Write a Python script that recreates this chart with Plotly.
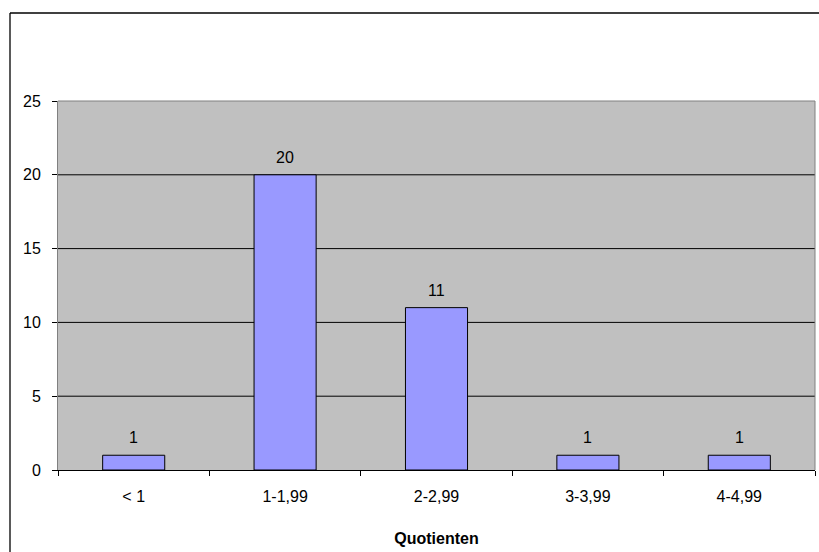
import plotly.graph_objects as go

# Häufigkeitsverteilung der Quotienten
categories = ["< 1", "1-1,99", "2-2,99", "3-3,99", "4-4,99"]
counts = [1, 20, 11, 1, 1]
y_ticks = [0, 5, 10, 15, 20, 25]

FONT = "Liberation Sans, Arial, sans-serif"
FS = 16

# Plot area in pixels (819 x 552 page)
L, R, T, B = 58, 4, 101, 82
W, H = 819, 552
pw, ph = W - L - R, H - T - B

fig = go.Figure()
fig.add_trace(go.Bar(
    x=categories,
    y=counts,
    width=0.41,
    marker=dict(color="#9999FF", line=dict(color="#000000", width=1)),
    hoverinfo="x+y",
))

# value labels above the bars
annotations = [
    dict(x=c, y=v, xref="x", yref="y", text=str(v), showarrow=False,
         yanchor="bottom", yshift=7, font=dict(family=FONT, size=FS, color="#000000"))
    for c, v in zip(categories, counts)
]

shapes = []
# horizontal gridlines at the inner ticks
for v in y_ticks[1:-1]:
    shapes.append(dict(type="line", xref="paper", yref="y", x0=0, x1=1, y0=v, y1=v,
                       line=dict(color="#000000", width=1), layer="below"))
# plot-area frame (top and right edges)
shapes.append(dict(type="line", xref="paper", yref="paper", x0=0, x1=1, y0=1, y1=1,
                   line=dict(color="#808080", width=1)))
shapes.append(dict(type="line", xref="paper", yref="paper", x0=1, x1=1, y0=0, y1=1,
                   line=dict(color="#808080", width=1)))
# outer chart border (top and left edges, running to the page edges)
ox0 = (10 - L) / pw
oy1 = (H - B - 13) / ph
shapes.append(dict(type="line", xref="paper", yref="paper",
                   x0=ox0, x1=(W - L) / pw, y0=oy1, y1=oy1,
                   line=dict(color="#000000", width=1.3)))
shapes.append(dict(type="line", xref="paper", yref="paper",
                   x0=ox0, x1=ox0, y0=oy1, y1=-B / ph,
                   line=dict(color="#000000", width=1.3)))

fig.update_layout(
    width=W, height=H,
    margin=dict(l=L, r=R, t=T, b=B, pad=0),
    paper_bgcolor="#FFFFFF",
    plot_bgcolor="#C0C0C0",
    showlegend=False,
    font=dict(family=FONT, size=FS, color="#000000"),
    shapes=shapes,
    annotations=annotations,
    xaxis=dict(
        type="category",
        tickson="boundaries",
        ticks="outside", ticklen=5, tickcolor="#000000", tickwidth=1,
        showline=True, linecolor="#000000", linewidth=1,
        showgrid=False,
        ticklabelstandoff=12,
        tickfont=dict(family=FONT, size=FS),
        title=dict(text="<b>Quotienten</b>", font=dict(family=FONT, size=FS), standoff=28),
    ),
    yaxis=dict(
        range=[0, 25],
        tickvals=y_ticks,
        ticks="outside", ticklen=5, tickcolor="#000000", tickwidth=1,
        showline=True, linecolor="#808080", linewidth=1,
        showgrid=False, zeroline=False,
        ticklabelstandoff=8,
        tickfont=dict(family=FONT, size=FS),
    ),
)

fig.write_html("out.html")
